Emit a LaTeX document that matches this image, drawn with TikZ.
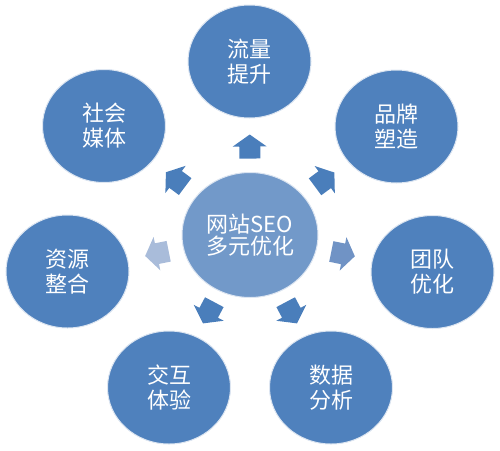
\documentclass[tikz,border=0pt]{standalone}
\usepackage{fontspec}
\newfontfamily\cjk{Noto Sans CJK SC}
\usetikzlibrary{shapes.geometric,calc}
\definecolor{outerblue}{HTML}{4F81BD}
\definecolor{centerblue}{HTML}{7299C9}
\definecolor{arrowblue}{HTML}{4A7EBB}
\definecolor{arrowlight}{HTML}{A9BCDA}
\definecolor{arrowmid}{HTML}{7093C5}
\definecolor{glowc}{HTML}{DCE5F1}
\tikzset{
  outer/.style={ellipse, fill=outerblue, draw=glowc, line width=1pt,
    minimum width=123pt, minimum height=113pt, inner sep=0pt,
    text=white, align=center, font=\cjk\fontsize{22}{25}\selectfont},
  hub/.style={outer, fill=centerblue, minimum width=136pt, minimum height=125pt,
    font=\cjk\fontsize{22}{22}\selectfont},
  pics/barrow/.style={code={\fill[#1] (-12pt,-10.5pt) -- (0pt,-10.5pt) -- (0pt,-17pt)
    -- (12pt,0pt) -- (0pt,17pt) -- (0pt,10.5pt) -- (-12pt,10.5pt) -- cycle;}}
}
\begin{document}
\begin{tikzpicture}[x=1pt,y=-1pt]
\useasboundingbox (0,0) rectangle (500,450);
\node[hub] (c) at (250,235) {网站SEO\\多元优化};
\node[outer] (o1) at (249.5,61.5) {流量\\提升};
\node[outer] (o2) at (396.5,126.5) {品牌\\塑造};
\node[outer] (o3) at (432.5,272) {团队\\优化};
\node[outer] (o4) at (331,387.5) {数据\\分析};
\node[outer] (o5) at (169,387.5) {交互\\体验};
\node[outer] (o6) at (67.5,271.5) {资源\\整合};
\node[outer] (o7) at (104,126) {社会\\媒体};
\foreach \t/\col in {o1/arrowblue,o2/arrowblue,o3/arrowmid,o4/arrowblue,o5/arrowblue,o6/arrowlight,o7/arrowblue}{
  \path let \p1=($(\t)-(c)$), \n1={atan2(\y1,\x1)} in
    ($(c)!0.51!(\t)$) pic[rotate=\n1] {barrow=\col};
}
\end{tikzpicture}
\end{document}
